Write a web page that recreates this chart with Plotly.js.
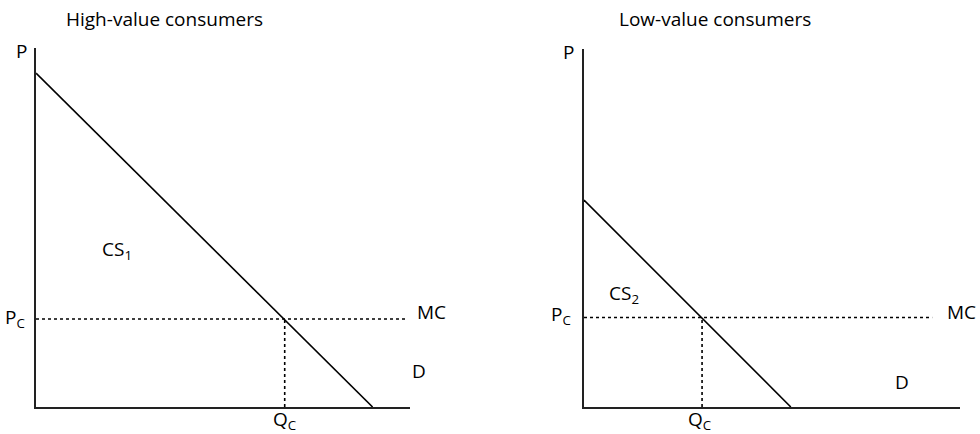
<!DOCTYPE html>
<html>
<head>
<meta charset="utf-8">
<script src="https://cdn.plot.ly/plotly-3.0.1.min.js"></script>
<style>html,body{margin:0;padding:0;background:#fff;}#chart{width:980px;height:434px;}</style>
</head>
<body>
<div id="chart"></div>
<script>
// Panel titles
const panelTitles = ["High-value consumers", "Low-value consumers"];

// High-value consumers (left panel), axis units 0-100
const demandHighQ = [0, 90];
const demandHighP = [93, 0];
const priceHigh = 24.5;      // P_C
const qtyHigh = 66.5;        // Q_C
const mcEndHigh = 99;        // where MC dotted line ends

// Low-value consumers (right panel)
const demandLowQ = [0, 55];
const demandLowP = [57.8, 0];
const priceLow = 25;
const qtyLow = 31.4;
const mcEndLow = 92.6;

const black = "#000";
const font = {family: "Open Sans, Noto Sans, sans-serif", size: 19, color: "#000"};

const traces = [
  {x: demandHighQ, y: demandHighP, xaxis: "x", yaxis: "y", mode: "lines", line: {color: black, width: 1.6}},
  {x: [0, mcEndHigh], y: [priceHigh, priceHigh], xaxis: "x", yaxis: "y", mode: "lines", line: {color: black, width: 1.6, dash: "dot"}},
  {x: [qtyHigh, qtyHigh], y: [0, priceHigh], xaxis: "x", yaxis: "y", mode: "lines", line: {color: black, width: 1.6, dash: "dot"}},
  {x: demandLowQ, y: demandLowP, xaxis: "x2", yaxis: "y2", mode: "lines", line: {color: black, width: 1.6}},
  {x: [0, mcEndLow], y: [priceLow, priceLow], xaxis: "x2", yaxis: "y2", mode: "lines", line: {color: black, width: 1.6, dash: "dot"}},
  {x: [qtyLow, qtyLow], y: [0, priceLow], xaxis: "x2", yaxis: "y2", mode: "lines", line: {color: black, width: 1.6, dash: "dot"}}
];

const axisCommon = {range: [0, 100], showgrid: false, zeroline: false, showticklabels: false, ticks: "", showline: true, linecolor: "#222", linewidth: 1.6, fixedrange: true};

function ann(x, y, text, xanchor) {
  return {x: x, y: y, text: text, xref: "paper", yref: "paper", xanchor: xanchor || "center", yanchor: "middle", showarrow: false, font: font};
}

const annotations = [
  ann(0.0303, 1.0808, panelTitles[0], "left"),
  ann(-0.0152, 0.9916, "P"),
  ann(-0.0097, 0.2480, "P<sub>C</sub>", "right"),
  ann(0.2684, -0.0360, "Q<sub>C</sub>"),
  ann(0.4102, 0.2646, "MC", "left"),
  ann(0.4048, 0.1003, "D", "left"),
  ann(0.0693, 0.4380, "CS<sub>1</sub>", "left"),

  ann(0.6288, 1.0808, panelTitles[1], "left"),
  ann(0.5768, 0.9889, "P"),
  ann(0.5812, 0.2560, "P<sub>C</sub>", "right"),
  ann(0.7186, -0.0350, "Q<sub>C</sub>"),
  ann(0.9838, 0.2646, "MC", "left"),
  ann(0.9275, 0.0696, "D", "left"),
  ann(0.6180, 0.3150, "CS<sub>2</sub>", "left")
];

const layout = {
  width: 980, height: 434,
  margin: {l: 36, r: 20, t: 48, b: 27},
  paper_bgcolor: "#fff", plot_bgcolor: "#fff",
  showlegend: false,
  font: font,
  xaxis: Object.assign({domain: [0, 374/924], anchor: "y"}, axisCommon),
  yaxis: Object.assign({domain: [0, 1], anchor: "x"}, axisCommon),
  xaxis2: Object.assign({domain: [548/924, 1], anchor: "y2"}, axisCommon),
  yaxis2: Object.assign({domain: [0, 358/359], anchor: "x2"}, axisCommon),
  annotations: annotations
};

Plotly.newPlot("chart", traces, layout, {staticPlot: true, displayModeBar: false});
</script>
</body>
</html>
